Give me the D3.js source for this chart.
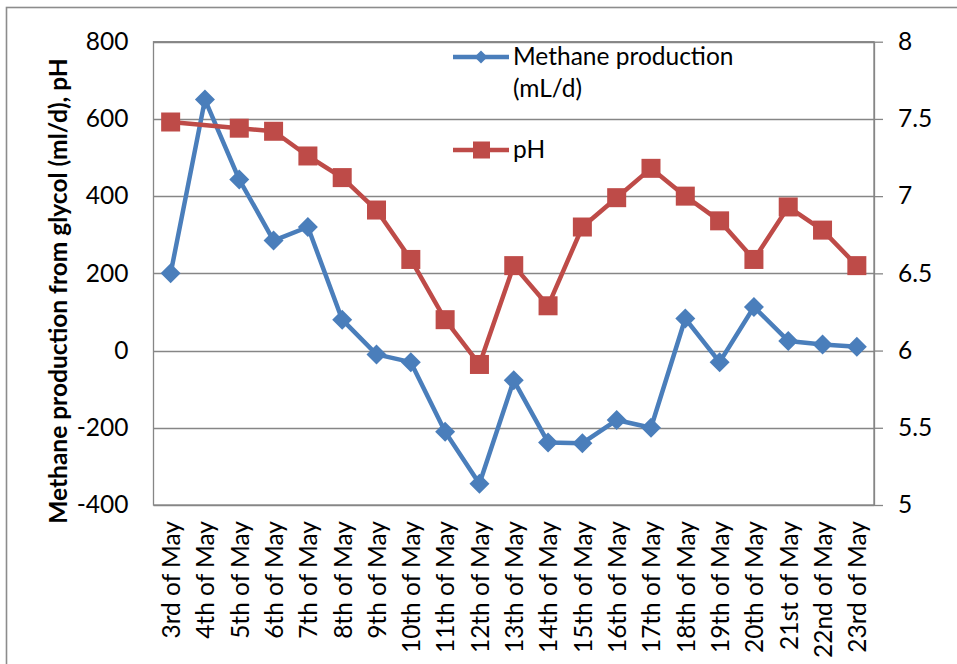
<!DOCTYPE html>
<html>
<head>
<meta charset="utf-8">
<script src="https://cdn.jsdelivr.net/npm/d3@7"></script>
<style>
  body { margin: 0; background: #fff; }
  svg { display: block; }
  text { font-family: Lato, "Open Sans", sans-serif; fill: #000; }
</style>
</head>
<body>
<svg id="chart" width="957" height="664"></svg>
<script>
// Sampling days
const days = ["3rd of May", "4th of May", "5th of May", "6th of May", "7th of May",
  "8th of May", "9th of May", "10th of May", "11th of May", "12th of May",
  "13th of May", "14th of May", "15th of May", "16th of May", "17th of May",
  "18th of May", "19th of May", "20th of May", "21st of May", "22nd of May", "23rd of May"];

// Methane production from glycol (mL/d)
const methane = [200, 650, 443, 285, 320, 80, -10, -30, -210, -345, -77,
  -238, -240, -180, -200, 83, -30, 113, 25, 16, 10];

// pH (no reading on the 4th)
const ph = [7.48, null, 7.44, 7.42, 7.26, 7.12, 6.91, 6.59, 6.20, 5.91, 6.55,
  6.29, 6.80, 6.99, 7.18, 7.00, 6.84, 6.59, 6.93, 6.78, 6.55];

const leftTicks = [800, 600, 400, 200, 0, -200, -400];
const rightTicks = [8, 7.5, 7, 6.5, 6, 5.5, 5];

const seriesNames = ["Methane production", "(mL/d)"];
const phName = "pH";
const yTitle = "Methane production from glycol (ml/d), pH";

const blue = "#4A7EBB";
const red = "#BE4B48";
const grid = "#868686";
const fs = "24.5px";

const svg = d3.select("#chart");
const plot = { left: 153.5, right: 874, top: 41.7, bottom: 505 };

const x = d3.scaleBand().domain(days).range([plot.left, plot.right]);
const yL = d3.scaleLinear().domain([-400, 800]).range([plot.bottom, plot.top]);
const yR = d3.scaleLinear().domain([5, 8]).range([plot.bottom, plot.top]);
const cx = d => x(d) + x.bandwidth() / 2;

// Outer chart frame (only top and left edges fall inside the view)
svg.append("rect")
  .attr("x", 6.5).attr("y", 7.5).attr("width", 1000).attr("height", 1000)
  .attr("fill", "none").attr("stroke", "#8c8c8c").attr("stroke-width", 1.6);

// Horizontal gridlines
svg.append("g").selectAll("line").data(leftTicks).join("line")
  .attr("x1", plot.left).attr("x2", plot.right)
  .attr("y1", d => Math.round(yL(d)) + 0.5).attr("y2", d => Math.round(yL(d)) + 0.5)
  .attr("stroke", grid).attr("stroke-width", 1.3);

// Plot frame
svg.append("rect")
  .attr("x", plot.left).attr("y", plot.top)
  .attr("width", plot.right - plot.left).attr("height", plot.bottom - plot.top)
  .attr("fill", "none").attr("stroke", grid).attr("stroke-width", 1.3);

// Left axis (plain hyphen for negatives)
const gL = svg.append("g").attr("transform", `translate(${plot.left},0)`)
  .call(d3.axisLeft(yL).tickValues(leftTicks).tickSize(0).tickPadding(25)
    .tickFormat(d => String(d)));
gL.select(".domain").remove();
gL.selectAll("text").style("font-size", fs);

// Right axis
const gR = svg.append("g").attr("transform", `translate(${plot.right},0)`)
  .call(d3.axisRight(yR).tickValues(rightTicks).tickSizeInner(9).tickSizeOuter(0).tickPadding(15)
    .tickFormat(d => String(d)));
gR.select(".domain").attr("stroke", grid).attr("stroke-width", 1.3);
gR.selectAll(".tick line").attr("stroke", grid).attr("stroke-width", 1.3);
gR.selectAll("text").style("font-size", fs);

// Bottom axis with vertical date labels
const gB = svg.append("g").attr("transform", `translate(0,${plot.bottom})`)
  .call(d3.axisBottom(x).tickSize(0));
gB.select(".domain").remove();
gB.selectAll("text")
  .style("font-size", fs)
  .attr("text-anchor", "end")
  .attr("transform", "rotate(-90)")
  .attr("x", -16).attr("y", 0).attr("dy", "0.38em");

// Axis title
svg.append("text")
  .attr("transform", `translate(67,291) rotate(-90)`)
  .attr("text-anchor", "middle")
  .style("font-size", fs).style("font-weight", "bold")
  .text(yTitle);

// Series lines
const methaneData = days.map((d, i) => ({ d, v: methane[i] }));
const phData = days.map((d, i) => ({ d, v: ph[i] })).filter(p => p.v != null);

const diamond = r => `M0,${-r}L${r},0L0,${r}L${-r},0Z`;

svg.append("path").datum(methaneData)
  .attr("fill", "none").attr("stroke", blue).attr("stroke-width", 4.5)
  .attr("stroke-linejoin", "round")
  .attr("d", d3.line().x(p => cx(p.d)).y(p => yL(p.v)));
svg.append("g").selectAll("path").data(methaneData).join("path")
  .attr("transform", p => `translate(${cx(p.d)},${yL(p.v)})`)
  .attr("d", diamond(10)).attr("fill", blue);

svg.append("path").datum(phData)
  .attr("fill", "none").attr("stroke", red).attr("stroke-width", 4.5)
  .attr("stroke-linejoin", "round")
  .attr("d", d3.line().x(p => cx(p.d)).y(p => yR(p.v)));
svg.append("g").selectAll("rect").data(phData).join("rect")
  .attr("x", p => cx(p.d) - 9.5).attr("y", p => yR(p.v) - 9.5)
  .attr("width", 19).attr("height", 19).attr("fill", red);

// Legend
const lg = svg.append("g");
lg.append("line").attr("x1", 453).attr("x2", 509).attr("y1", 57).attr("y2", 57)
  .attr("stroke", blue).attr("stroke-width", 4.5);
lg.append("path").attr("transform", "translate(481,57)").attr("d", diamond(6.5)).attr("fill", blue);
lg.append("text").attr("x", 513).attr("y", 65).style("font-size", fs).text(seriesNames[0]);
lg.append("text").attr("x", 513).attr("y", 97).style("font-size", fs).text(seriesNames[1]);
lg.append("line").attr("x1", 453).attr("x2", 509).attr("y1", 150).attr("y2", 150)
  .attr("stroke", red).attr("stroke-width", 4.5);
lg.append("rect").attr("x", 473).attr("y", 141.5).attr("width", 17).attr("height", 17).attr("fill", red);
lg.append("text").attr("x", 513).attr("y", 158).style("font-size", fs).text(phName);
</script>
</body>
</html>
